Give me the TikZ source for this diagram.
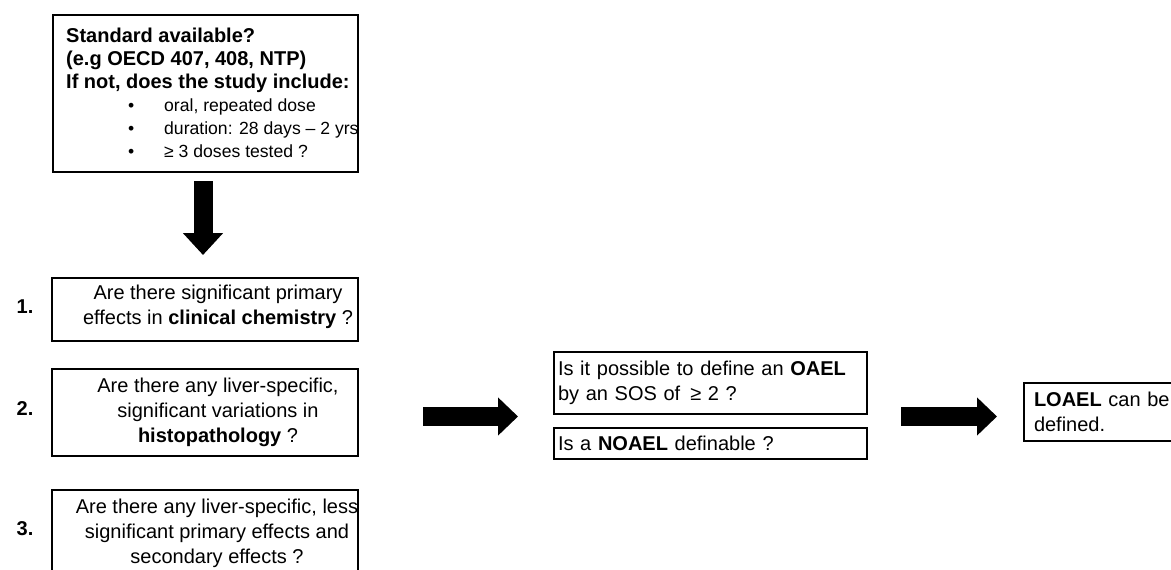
\documentclass[tikz,border=0pt]{standalone}
\usepackage{fontspec}
\setmainfont{Liberation Sans}
\usetikzlibrary{arrows.meta}
\newcommand{\fsz}{\fontsize{20pt}{25pt}\selectfont}
\newcommand{\fsztop}{\fontsize{20pt}{23pt}\selectfont}
\newcommand{\bfs}{\fontsize{17.6pt}{23pt}\selectfont}
\newcommand{\bitem}[1]{\hspace*{62pt}\makebox[36pt][l]{\bfs\textbullet}{\bfs #1}}
\tikzset{
  box/.style={draw=black, line width=2pt, inner sep=0pt},
  boxtext/.style={font=\fsz, align=center, inner sep=0pt},
  lbox/.style={draw=black, line width=2pt, inner sep=4pt, font=\fsz, align=left, anchor=north west},
  numlab/.style={font=\fsz\bfseries, inner sep=0pt},
  blockdown/.style={line width=19pt, -{Triangle[length=22pt 0 0, width=39pt 0 0]}},
  blockright/.style={line width=19pt, -{Triangle[length=20pt 0 0, width=37pt 0 0]}},
}
\begin{document}
\begin{tikzpicture}[x=1pt,y=-1pt]
\useasboundingbox (0,0) rectangle (1171,570);
\clip (0,0) rectangle (1171,570);
% top box
\node[box, minimum width=305pt, minimum height=157pt] (top) at (205.5,93.5) {};
\node[font=\fsztop, align=left, anchor=west, inner sep=0pt] (toptext) at (66,93)
 {\textbf{Standard available?}\\
  \textbf{(e.g OECD 407, 408, NTP)}\\
  \textbf{If not, does the study include:}\\
  \bitem{oral, repeated dose}\\
  \bitem{duration: 28 days -- 2 yrs}\\
  \bitem{≥ 3 doses tested ?}};
% question boxes
\node[box, minimum width=306pt, minimum height=63pt] (q1) at (205,309.5) {};
\node[boxtext] (q1t) at ([xshift=13pt,yshift=3pt]q1.center)
 {Are there significant primary\\effects in \textbf{clinical chemistry} ?};
\node[box, minimum width=306pt, minimum height=87pt] (q2) at (205,412.5) {};
\node[boxtext] (q2t) at ([xshift=13pt]q2.center)
 {Are there any liver-specific,\\significant variations in\\\textbf{histopathology} ?};
\node[box, minimum width=306pt, minimum height=86pt] (q3) at (205,533) {};
\node[boxtext] (q3t) at ([xshift=12pt]q3.center)
 {Are there any liver-specific, less\\significant primary effects and\\secondary effects ?};
\node[numlab] (n1) at (25,306.5) {1.};
\node[numlab] (n2) at (25,408.5) {2.};
\node[numlab] (n3) at (25,528.5) {3.};
% middle boxes
\node[lbox, minimum width=313pt, minimum height=62pt, text width=305pt] (oael) at (553,351)
 {Is it possible to define an \textbf{OAEL}\\by an SOS of \,≥ 2 ?};
\node[lbox, minimum width=313pt, minimum height=31pt, text width=305pt, inner ysep=0pt] (noael) at (553,427)
 {Is a \textbf{NOAEL} definable ?};
% right box
\node[lbox, minimum width=190pt, minimum height=58pt, text width=170pt, inner xsep=10pt] (loael) at (1023,382)
 {\textbf{LOAEL} can be\\defined.};
% block arrows
\coordinate (d1) at (203,181);
\coordinate (d2) at (203,255);
\draw[blockdown] (d1) -- (d2);
\coordinate (r1a) at (423,416.5);
\coordinate (r1b) at (518,416.5);
\draw[blockright] (r1a) -- (r1b);
\coordinate (r2a) at (901,416.5);
\coordinate (r2b) at (997,416.5);
\draw[blockright] (r2a) -- (r2b);
\end{tikzpicture}
\end{document}
